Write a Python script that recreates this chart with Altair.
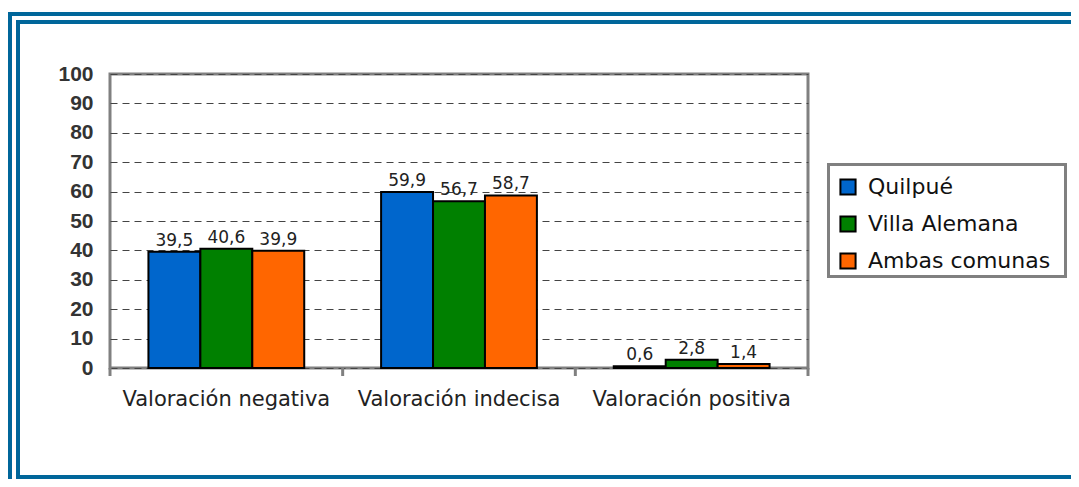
import altair as alt
import pandas as pd

categories = ["Valoración negativa", "Valoración indecisa", "Valoración positiva"]
series = ["Quilpué", "Villa Alemana", "Ambas comunas"]
quilpue = [39.5, 59.9, 0.6]
villa_alemana = [40.6, 56.7, 2.8]
ambas_comunas = [39.9, 58.7, 1.4]
colors = ["#0066CC", "#008000", "#FF6600"]
y_ticks = list(range(0, 101, 10))

rows = []
for s, vals in zip(series, [quilpue, villa_alemana, ambas_comunas]):
    for c, v in zip(categories, vals):
        rows.append({"categoria": c, "serie": s, "valor": v})
df = pd.DataFrame(rows)

W, H = 698, 294

x_enc = alt.X("categoria:N", sort=categories,
              scale=alt.Scale(paddingInner=0, paddingOuter=0),
              axis=alt.Axis(title=None, ticks=False, domain=False, labelAngle=0,
                            labelFont="DejaVu Sans", labelFontSize=21,
                            labelColor="#222", labelPadding=20, labelLimit=0,
                            labelFontWeight="normal"))
xo_enc = alt.XOffset("serie:N", sort=series,
                     scale=alt.Scale(paddingOuter=0.74, paddingInner=0))
y_enc = alt.Y("valor:Q", scale=alt.Scale(domain=[0, 100], nice=False),
              axis=alt.Axis(title=None, values=y_ticks, ticks=False, domain=False,
                            labelFont="Liberation Sans", labelFontSize=21,
                            labelFontWeight="bold", labelColor="#333",
                            labelOverlap=False, labelFlush=False,
                            labelPadding=17, grid=True, gridColor="#444",
                            gridDash=[7, 5], gridWidth=1))

bars = alt.Chart(df).mark_bar(stroke="black", strokeWidth=2).encode(
    x=x_enc,
    xOffset=xo_enc,
    y=y_enc,
    color=alt.Color("serie:N", sort=series,
                    scale=alt.Scale(domain=series, range=colors),
                    legend=alt.Legend(title=None, orient="none", legendX=727, legendY=102,
                                      symbolType="square", symbolSize=230,
                                      symbolStrokeColor="black", symbolStrokeWidth=2,
                                      labelFont="DejaVu Sans", labelFontSize=22,
                                      labelColor="#111", labelOffset=9, labelLimit=0,
                                      rowPadding=13, padding=0)),
)

labels = alt.Chart(df).transform_calculate(
    etiqueta="replace(format(datum.valor, '.1f'), '.', ',')"
).mark_text(baseline="bottom", dy=-2, font="DejaVu Sans", fontSize=17, color="#222").encode(
    x=x_enc,
    xOffset=xo_enc,
    y=y_enc,
    text="etiqueta:N",
)

tick_df = pd.DataFrame({"categoria": categories})
ticks_a = alt.Chart(tick_df).mark_rule(color="#808080", strokeWidth=3).encode(
    x=alt.X("categoria:N", sort=categories, bandPosition=0),
    y=alt.value(H), y2=alt.value(H + 8),
)
ticks_b = alt.Chart(pd.DataFrame({"categoria": [categories[-1]]})).mark_rule(
    color="#808080", strokeWidth=3).encode(
    x=alt.X("categoria:N", sort=categories, bandPosition=1),
    y=alt.value(H), y2=alt.value(H + 8),
)

one = pd.DataFrame({"k": [0]})
outer = alt.Chart(one).mark_rect(fill=None, stroke="#00669A", strokeWidth=4).encode(
    x=alt.value(-100), x2=alt.value(975), y=alt.value(-60), y2=alt.value(415))
inner = alt.Chart(one).mark_rect(fill=None, stroke="#00669A", strokeWidth=4).encode(
    x=alt.value(-92), x2=alt.value(975), y=alt.value(-52), y2=alt.value(403))
legend_box = alt.Chart(one).mark_rect(fill="white", stroke="#808080", strokeWidth=3).encode(
    x=alt.value(718.5), x2=alt.value(955.5), y=alt.value(90.5), y2=alt.value(202.5))

chart = alt.layer(outer, inner, legend_box, bars, labels, ticks_a, ticks_b).properties(
    width=W, height=H,
    autosize=alt.AutoSizeParams(type="none"),
    padding={"left": 102, "top": 66, "right": 263, "bottom": 111},
    background="white",
).configure_view(stroke="#808080", strokeWidth=3)

chart.save("out.html", embed_options={"renderer": "svg", "actions": False})
